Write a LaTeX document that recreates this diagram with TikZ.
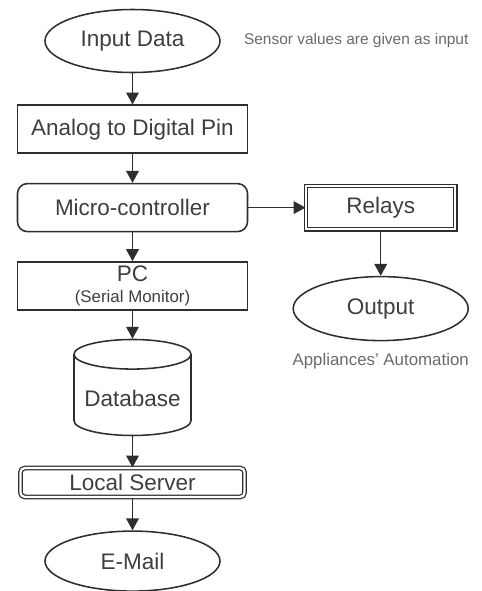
\documentclass[tikz,border=0pt]{standalone}
\usepackage{fontspec}
\setmainfont{Liberation Sans}
\usepackage{tikz}
\usetikzlibrary{shapes.geometric, arrows.meta, positioning}

\definecolor{linegray}{HTML}{2E2E2E}
\definecolor{textgray}{HTML}{3E3E3E}
\definecolor{notegray}{HTML}{6A6A6A}

\begin{document}
\begin{tikzpicture}[
            node distance=0.75cm,
            every node/.style={text=textgray, font=\fontsize{16}{19}\selectfont},
            oval/.style={ellipse, draw=linegray, line width=1.1pt, inner sep=0pt, minimum width=4.375cm, minimum height=1.575cm},
            proc/.style={rectangle, draw=linegray, line width=1.1pt, minimum width=5.75cm, minimum height=1.2cm},
            ctrl/.style={proc, rounded corners=7pt},
            dbl/.style={rectangle, draw=linegray, line width=0.9pt, double, double distance=1.6pt},
            store/.style={cylinder, shape border rotate=90, aspect=0.28, draw=linegray, line width=1.1pt, minimum width=2.925cm, minimum height=2.4cm},
            note/.style={text=notegray, inner sep=0pt},
            flow/.style={-{Triangle[length=8.5pt, width=9pt]}, line width=1.1pt, draw=linegray}
        ]
        \useasboundingbox (-3.3125,1.025) rectangle (8.7375,-13.75);

        % Main column
        \node[oval] (input) at (0,0) {Input Data};
        \node[proc, below=0.78cm of input] (adc) {Analog to Digital Pin};
        \node[ctrl, below=0.72cm of adc] (mcu) {Micro-controller};
        \node[proc, below=0.72cm of mcu, align=center, inner sep=0pt] (pc) {PC\\[-4pt]{\fontsize{12}{14}\selectfont(Serial Monitor)}};
        \node[store, below=0.7cm of pc] (db) {Database};
        \node[dbl, rounded corners=3pt, below=0.78cm of db, minimum width=5.6cm, minimum height=0.72cm] (server) {Local Server};
        \node[oval, below=0.82cm of server, minimum height=1.5cm] (mail) {E-Mail};

        % Side branch
        \node[dbl, right=1.43cm of mcu, minimum width=3.73cm, minimum height=1.08cm] (relays) {Relays};
        \node[oval, below=1.15cm of relays, minimum height=1.6cm] (output) {Output};

        % Notes
        \node[note, right=0.575cm of input, font=\fontsize{11}{13}\selectfont] (sensornote) {Sensor values are given as input};
        \node[note, below=0.3cm of output, font=\fontsize{12}{14}\selectfont] (autonote) {Appliances' Automation};

        % Connections
        \draw[flow] (input) -- (adc);
        \draw[flow] (adc) -- (mcu);
        \draw[flow] (mcu) -- (pc);
        \draw[flow] (pc) -- (db);
        \draw[flow] (db) -- (server);
        \draw[flow] (server) -- (mail);
        \draw[flow] (mcu) -- (relays);
        \draw[flow] (relays) -- (output);

    \end{tikzpicture}
\end{document}
